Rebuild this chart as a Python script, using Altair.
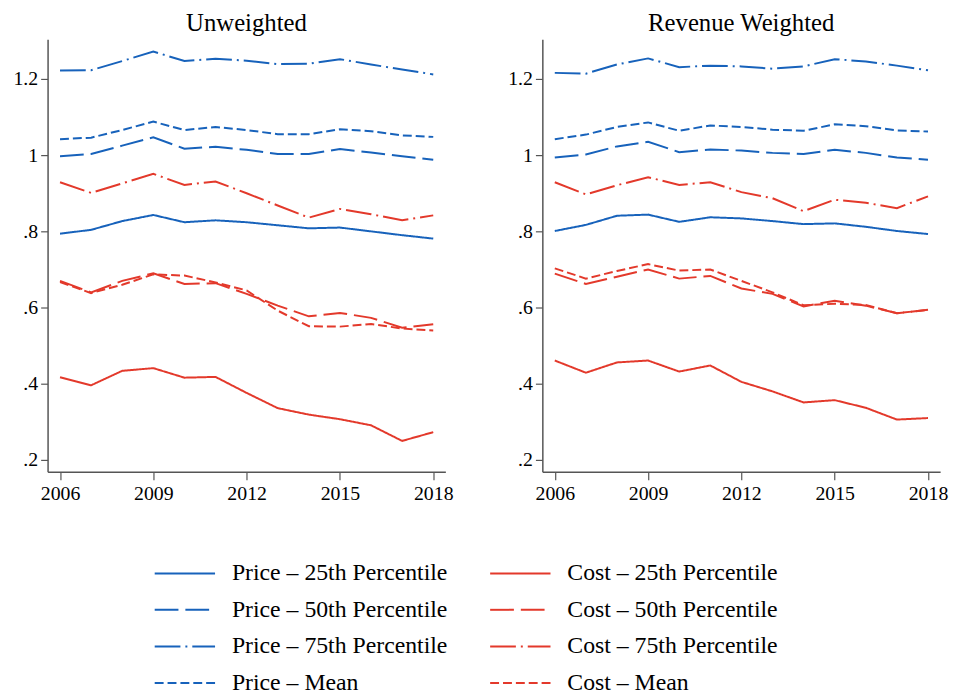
import altair as alt
import pandas as pd

years = list(range(2006, 2019))

series_names = [
    "Price – 25th Percentile", "Price – 50th Percentile",
    "Price – 75th Percentile", "Price – Mean",
    "Cost – 25th Percentile", "Cost – 50th Percentile",
    "Cost – 75th Percentile", "Cost – Mean",
]

# Unweighted panel
uw_price_p25 = [0.794, 0.804, 0.827, 0.843, 0.824, 0.829, 0.824, 0.816, 0.808, 0.810, 0.800, 0.790, 0.781]
uw_price_p50 = [0.997, 1.003, 1.025, 1.047, 1.017, 1.022, 1.014, 1.003, 1.003, 1.016, 1.007, 0.997, 0.988]
uw_price_p75 = [1.222, 1.223, 1.247, 1.272, 1.247, 1.253, 1.248, 1.239, 1.240, 1.252, 1.238, 1.225, 1.212]
uw_price_mean = [1.042, 1.046, 1.066, 1.088, 1.066, 1.074, 1.066, 1.055, 1.055, 1.068, 1.063, 1.052, 1.048]
uw_cost_p25 = [0.417, 0.396, 0.434, 0.441, 0.416, 0.418, 0.376, 0.336, 0.319, 0.307, 0.291, 0.250, 0.273]
uw_cost_p50 = [0.670, 0.640, 0.670, 0.690, 0.662, 0.664, 0.636, 0.605, 0.577, 0.586, 0.573, 0.547, 0.556]
uw_cost_p75 = [0.929, 0.901, 0.926, 0.951, 0.922, 0.931, 0.900, 0.868, 0.836, 0.859, 0.845, 0.829, 0.842]
uw_cost_mean = [0.667, 0.638, 0.660, 0.687, 0.684, 0.666, 0.645, 0.592, 0.551, 0.550, 0.557, 0.545, 0.540]

# Revenue weighted panel
rw_price_p25 = [0.801, 0.817, 0.841, 0.844, 0.825, 0.837, 0.834, 0.827, 0.819, 0.821, 0.812, 0.801, 0.793]
rw_price_p50 = [0.994, 1.002, 1.023, 1.035, 1.008, 1.015, 1.012, 1.006, 1.003, 1.014, 1.006, 0.994, 0.988]
rw_price_p75 = [1.216, 1.214, 1.238, 1.254, 1.231, 1.235, 1.233, 1.227, 1.233, 1.252, 1.246, 1.235, 1.223]
rw_price_mean = [1.042, 1.054, 1.074, 1.086, 1.064, 1.078, 1.074, 1.067, 1.064, 1.081, 1.076, 1.065, 1.062]
rw_cost_p25 = [0.461, 0.429, 0.456, 0.461, 0.432, 0.448, 0.405, 0.380, 0.351, 0.357, 0.337, 0.306, 0.310]
rw_cost_p50 = [0.689, 0.662, 0.681, 0.700, 0.676, 0.683, 0.650, 0.636, 0.603, 0.618, 0.605, 0.585, 0.594]
rw_cost_p75 = [0.929, 0.897, 0.921, 0.942, 0.922, 0.929, 0.903, 0.887, 0.853, 0.883, 0.875, 0.861, 0.892]
rw_cost_mean = [0.703, 0.676, 0.696, 0.714, 0.697, 0.700, 0.670, 0.640, 0.606, 0.610, 0.607, 0.585, 0.594]

uw_values = [uw_price_p25, uw_price_p50, uw_price_p75, uw_price_mean,
             uw_cost_p25, uw_cost_p50, uw_cost_p75, uw_cost_mean]
rw_values = [rw_price_p25, rw_price_p50, rw_price_p75, rw_price_mean,
             rw_cost_p25, rw_cost_p50, rw_cost_p75, rw_cost_mean]

BLUE = "#1762bb"
RED = "#e3392b"

# legend fills column by column: Price column, then Cost column
legend_order = series_names
color_range = [BLUE] * 4 + [RED] * 4
dash_range = [[1, 0], [24, 7], [26, 5, 2, 5], [9, 4]] * 2


def make_df(values):
    rows = []
    for name, vals in zip(series_names, values):
        for yr, v in zip(years, vals):
            rows.append({"year": yr, "value": v, "series": name})
    return pd.DataFrame(rows)


FONT = "Liberation Serif"

# a wide horizontal line symbol (twice the nominal symbol width)
legend = alt.Legend(
    orient="none", legendX=108, legendY=523, columns=2, title=None,
    symbolType="M-2,0H2", symbolSize=930, symbolStrokeWidth=2, symbolOffset=14.25,
    labelFont=FONT, labelFontSize=24, labelColor="black",
    labelOffset=31, columnPadding=38, rowPadding=8, labelLimit=0,
)


def panel(values, title):
    return alt.Chart(make_df(values)).mark_line(strokeWidth=2, clip=True).encode(
        x=alt.X("year:Q",
                scale=alt.Scale(domain=[2005.6, 2018.39], nice=False, zero=False),
                axis=alt.Axis(values=[2006, 2009, 2012, 2015, 2018], format="d", title=None)),
        y=alt.Y("value:Q",
                scale=alt.Scale(domain=[0.169, 1.304], nice=False, zero=False),
                axis=alt.Axis(values=[0.2, 0.4, 0.6, 0.8, 1.0, 1.2], title=None,
                              labelExpr="replace(format(datum.value, '.1~f'), /^0/, '')")),
        color=alt.Color("series:N", scale=alt.Scale(domain=legend_order, range=color_range), legend=legend),
        strokeDash=alt.StrokeDash("series:N", scale=alt.Scale(domain=legend_order, range=dash_range), legend=legend),
        detail="series:N",
    ).properties(
        width=402, height=437,
        title=alt.TitleParams(title, font=FONT, fontSize=25, fontWeight="normal", color="black", offset=3),
    )


chart = alt.hconcat(
    panel(uw_values, "Unweighted"),
    panel(rw_values, "Revenue Weighted"),
    spacing=55,
).properties(
    padding={"left": 5, "top": 0, "right": 5, "bottom": 5},
).configure_view(stroke=None).configure_axis(
    grid=False, domainColor="#555", domainWidth=1.5, tickColor="#555", tickWidth=1.2,
    tickSize=7, labelFont=FONT, labelFontSize=20, labelColor="black", labelPadding=3,
).configure_axisX(tickSize=8, labelPadding=4)

chart.save("out.html", embed_options={"renderer": "svg", "actions": False})
